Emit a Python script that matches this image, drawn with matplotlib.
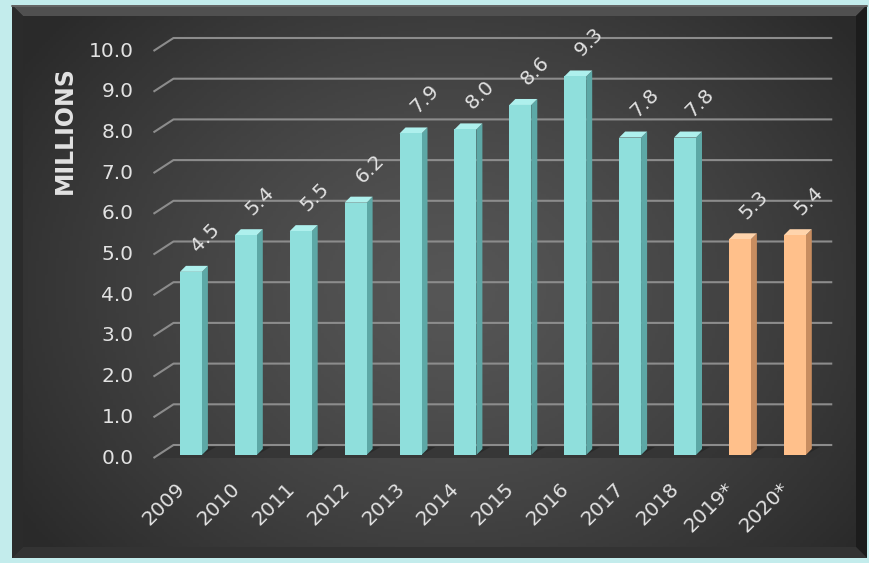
import numpy as np
import matplotlib
matplotlib.use("Agg")
import matplotlib.pyplot as plt
from matplotlib.patches import Polygon

# Visitors per year, in millions (starred years are estimates)
years = ["2009", "2010", "2011", "2012", "2013", "2014",
         "2015", "2016", "2017", "2018", "2019*", "2020*"]
visitors = [4.5, 5.4, 5.5, 6.2, 7.9, 8.0, 8.6, 9.3, 7.8, 7.8, 5.3, 5.4]
estimated = [False] * 10 + [True] * 2
y_ticks = [0, 1, 2, 3, 4, 5, 6, 7, 8, 9, 10]

W, H = 869, 563
fig = plt.figure(figsize=(W / 100, H / 100), dpi=100)
fig.patch.set_facecolor("#c3ecec")

# ---- dark panel with radial shading and a bevelled edge ----
bg = fig.add_axes([0, 0, 1, 1])
bg.set_xlim(0, W)
bg.set_ylim(H, 0)
bg.axis("off")

px0, px1, py0, py1 = 12, 867, 5, 558
gx, gy = np.meshgrid(np.linspace(px0, px1, 300), np.linspace(py0, py1, 200))
r = np.sqrt(((gx - 450) / 520) ** 2 + ((gy - 290) / 420) ** 2)
r = np.clip(r, 0, 1)
inner, outer = np.array([0x56, 0x56, 0x56]), np.array([0x2a, 0x2a, 0x2a])
img = inner[None, None, :] * (1 - r[..., None] ** 1.3) + outer[None, None, :] * r[..., None] ** 1.3
bg.imshow(img.astype(np.uint8), extent=(px0, px1, py1, py0), aspect="auto", zorder=0)

bev = 11
bg.add_patch(Polygon([(px0, py0), (px1, py0), (px1 - bev, py0 + bev), (px0 + bev, py0 + bev)],
                     closed=True, facecolor="#505050", edgecolor="none", zorder=1))
bg.add_patch(Polygon([(px1, py0), (px1, py1), (px1 - bev, py1 - bev), (px1 - bev, py0 + bev)],
                     closed=True, facecolor="#1c1c1c", edgecolor="none", zorder=1))
bg.add_patch(Polygon([(px0, py1), (px1, py1), (px1 - bev, py1 - bev), (px0 + bev, py1 - bev)],
                     closed=True, facecolor="#333333", edgecolor="none", zorder=1))
bg.add_patch(Polygon([(px0, py0), (px0, py1), (px0 + bev, py1 - bev), (px0 + bev, py0 + bev)],
                     closed=True, facecolor="#2b2b2b", edgecolor="none", zorder=1))
bg.plot([px0, px1], [py0 + 1, py0 + 1], color="#6a6a6a", lw=1.2, zorder=2)

# ---- chart axes: front plane of the columns ----
xlim = (-0.8, 11.8)
ylim = (0, 10.5)
left_px, bottom_px = 147, 108
scale_x, scale_y = 54.9, 40.7
ax = fig.add_axes([left_px / W, bottom_px / H,
                   (xlim[1] - xlim[0]) * scale_x / W, (ylim[1] - ylim[0]) * scale_y / H])
ax.set_xlim(*xlim)
ax.set_ylim(*ylim)
ax.axis("off")

# pixel offsets expressed in data units
dx = 1 / scale_x
dy = 1 / scale_y

def shift(x, y, ox, oy):
    return (x + ox * dx, y + oy * dy)

grid_color = "#8c8c8c"
text_color = "#e2e2e2"
back = (10, 10)      # back wall relative to column fronts
floor = (-10, -3)    # front edge of the floor

# floor slab
floor_poly = [shift(-0.5, 0, *back), shift(11.5, 0, *back),
              shift(11.5, 0, *floor), shift(-0.5, 0, *floor)]
ax.add_patch(Polygon(floor_poly, closed=True, facecolor="#333333",
                     edgecolor="none", alpha=0.8, zorder=1, clip_on=False))

# gridlines on the back wall with the slanted side wall segment
for v in y_ticks:
    a = shift(-0.5, v, *back)
    b = shift(11.5, v, *back)
    c = shift(-0.5, v, *floor)
    ax.plot([c[0], a[0], b[0]], [c[1], a[1], b[1]], color=grid_color,
            lw=1.5, solid_capstyle="butt", zorder=2, clip_on=False)
    ax.text(*shift(-0.5, v, floor[0] - 20, floor[1]), f"{v:.1f}", ha="right", va="center",
            color=text_color, fontsize=14.5, zorder=5)

# 3D-looking columns
bar_w = 0.40
depth = 6
for i, (v, est) in enumerate(zip(visitors, estimated)):
    if est:
        front, side, top = "#ffc08b", "#c88d60", "#ffd4ac"
    else:
        front, side, top = "#8fdfdc", "#5da8a6", "#aef0ed"
    x0, x1 = i - bar_w / 2, i + bar_w / 2
    # shadow on the floor
    ax.add_patch(Polygon([(x1, 0), shift(x1, 0, depth + 8, 8), shift(x0, 0, depth + 8, 8), (x0, 0)],
                         closed=True, facecolor="#1e1e1e", alpha=0.5, edgecolor="none", zorder=2))
    ax.add_patch(Polygon([(x1, 0), shift(x1, 0, depth, depth), shift(x1, v, depth, depth), (x1, v)],
                         closed=True, facecolor=side, edgecolor="none", zorder=3))
    ax.add_patch(Polygon([(x0, v), (x1, v), shift(x1, v, depth, depth), shift(x0, v, depth, depth)],
                         closed=True, facecolor=top, edgecolor="none", zorder=3))
    ax.bar(i, v, width=bar_w, color=front, edgecolor="none", zorder=4)
    ax.annotate(f"{v:.1f}", (i, v), xytext=(3, 23), textcoords="offset pixels",
                rotation=45, rotation_mode="anchor", ha="left", va="center",
                color=text_color, fontsize=14.5, zorder=5)
    ax.text(*shift(i, 0, -9, -31), years[i], rotation=45, rotation_mode="anchor",
            ha="right", va="center", color=text_color, fontsize=14.5, zorder=5)

fig.text(65 / W, 1 - 130 / H, "MILLIONS", rotation=90, ha="center", va="center",
         color=text_color, fontsize=17, fontweight="bold")

fig.savefig("out.png", dpi=100, facecolor=fig.get_facecolor())
